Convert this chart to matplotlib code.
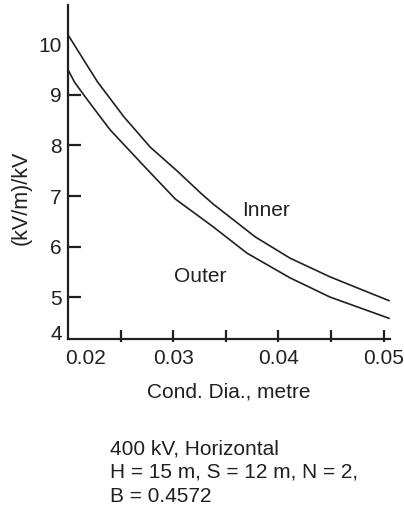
import matplotlib
matplotlib.use("Agg")
import matplotlib.pyplot as plt
import matplotlib.transforms as mtransforms

# Data
dia_inner = [0.020, 0.0212, 0.0228, 0.0253, 0.0278, 0.0304, 0.0326, 0.0338, 0.0378, 0.0411, 0.0449, 0.0487, 0.0505]
e_inner = [10.19, 9.79, 9.26, 8.57, 7.97, 7.49, 7.06, 6.84, 6.19, 5.77, 5.40, 5.08, 4.93]
dia_outer = [0.020, 0.0206, 0.0215, 0.0228, 0.024, 0.0271, 0.0302, 0.0338, 0.037, 0.0411, 0.0449, 0.0505]
e_outer = [9.50, 9.26, 9.00, 8.64, 8.31, 7.62, 6.94, 6.39, 5.87, 5.38, 5.00, 4.58]

xtick_major = [0.02, 0.03, 0.04, 0.05]
xtick_labels = ["0.02", "0.03", "0.04", "0.05"]
xtick_minor = [0.025, 0.035, 0.045]
ytick_vals = [5, 6, 7, 8, 9, 10]
ylabels = ["5", "6", "7", "8", "9", "10"]
x_lim = (0.02, 0.0506)
y_lim = (4.17, 10.78)

ink = "#231f20"
plt.rcParams["font.family"] = ["Liberation Sans", "DejaVu Sans"]
plt.rcParams["font.size"] = 15
plt.rcParams["text.color"] = ink

fig = plt.figure(figsize=(4.04, 5.12), dpi=100)
ax = fig.add_axes([68/404, 1 - 339/512, (390-68)/404, (339-5)/512])

ax.plot(dia_inner, e_inner, color=ink, lw=1.2)
ax.plot(dia_outer, e_outer, color=ink, lw=1.2)

ax.set_xlim(*x_lim)
ax.set_ylim(*y_lim)

for s in ["top", "right"]:
    ax.spines[s].set_visible(False)
for s in ["left", "bottom"]:
    ax.spines[s].set_linewidth(1.6)
    ax.spines[s].set_color(ink)

# y ticks: include the axis bottom labelled "4"
ax.set_yticks([y_lim[0]] + ytick_vals)
ax.set_yticklabels(["4"] + ylabels)
ax.tick_params(axis="y", direction="in", length=9, width=1.6, color=ink,
               labelcolor=ink, pad=4.5, labelsize=15)
yt = ax.yaxis.get_major_ticks()
yt[0].tick1line.set_visible(False)
yt[-1].tick1line.set_visible(False)
yt[0].label1.set_transform(yt[0].label1.get_transform() +
                           mtransforms.ScaledTranslation(0, 6/100, fig.dpi_scale_trans))

ax.set_xticks(xtick_major)
ax.set_xticklabels(xtick_labels)
ax.set_xticks(xtick_minor, minor=True)
ax.tick_params(axis="x", which="both", direction="in", length=6.5, width=1.6,
               color=ink, labelcolor=ink, pad=7, labelsize=15)
xt = ax.xaxis.get_major_ticks()
xt[0].tick1line.set_visible(False)
xt[0].label1.set_transform(xt[0].label1.get_transform() +
                           mtransforms.ScaledTranslation(17/100, 0, fig.dpi_scale_trans))

# short outward stubs of the x ticks
sec = ax.secondary_xaxis("bottom")
sec.set_xticks(xtick_major[1:] + xtick_minor)
sec.tick_params(direction="out", length=2.2, width=1.6, color=ink, labelbottom=False)
sec.spines["bottom"].set_visible(False)

ax.set_xlabel("Cond. Dia., metre", fontsize=15, color=ink, labelpad=11)
fig.text(21/404, 1 - 198/512, "(kV/m)/kV", rotation=90, ha="center", va="center",
         fontsize=15.5, color=ink)

ax.text(0.0388, 6.72, "Inner", ha="center", va="center", fontsize=15, color=ink)
ax.text(0.03255, 5.40, "Outer", ha="center", va="center", fontsize=15, color=ink)

fig.text(110/404, 1 - 449/512, "400 kV, Horizontal", ha="left", va="center", fontsize=15, color=ink)
fig.text(110/404, 1 - 472/512, "H = 15 m, S = 12 m, N = 2,", ha="left", va="center", fontsize=15, color=ink)
fig.text(110/404, 1 - 497/512, "B = 0.4572", ha="left", va="center", fontsize=15, color=ink)

fig.savefig("out.png", dpi=100)
